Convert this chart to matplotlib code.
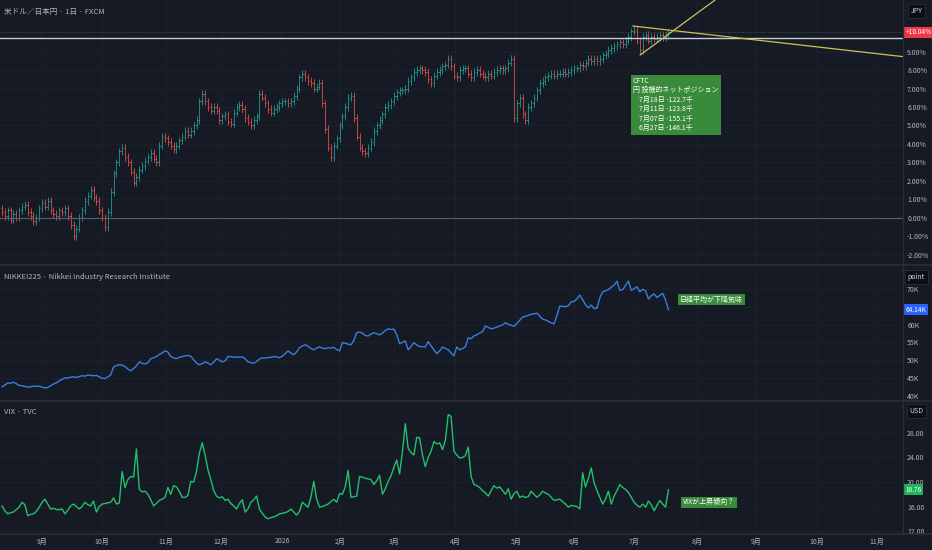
import matplotlib
matplotlib.use('Agg')
import matplotlib.pyplot as plt
import matplotlib.transforms as mtransforms
from matplotlib.lines import Line2D
import numpy as np

plt.rcParams['font.family'] = ['Noto Sans CJK JP', 'DejaVu Sans']

# 米ドル／日本円 日足終値 (基準日からの変化率 %)
usdjpy_close = [
    0.3, 0.1, 0.4, -0.1, 0.2, 0.0, 0.4, 0.6, 0.7, 0.3,
    0.1, -0.2, 0.0, 0.5, 0.8, 0.6, 0.9, 0.4, 0.2, 0.1,
    0.4, 0.3, 0.5, 0.1, -0.4, -1.0, -0.6, 0.0, 0.4, 0.9,
    1.2, 1.5, 1.1, 0.9, 0.4, 0.0, -0.5, 0.3, 1.4, 2.4,
    3.0, 3.6, 3.8, 3.3, 3.0, 2.5, 1.9, 2.2, 2.6, 2.8,
    3.1, 3.3, 3.5, 3.2, 3.0, 3.9, 4.4, 4.3, 4.1, 3.9,
    3.7, 3.9, 4.2, 4.4, 4.7, 4.5, 4.7, 5.0, 5.3, 6.3,
    6.7, 6.3, 6.0, 5.8, 6.0, 5.8, 5.3, 5.5, 5.6, 5.2,
    5.1, 5.7, 6.0, 6.1, 5.9, 5.4, 5.2, 5.0, 5.3, 5.5,
    6.7, 6.5, 6.2, 5.9, 5.7, 5.9, 6.0, 6.2, 6.3, 6.3,
    6.2, 6.3, 6.6, 7.0, 7.6, 7.8, 7.6, 7.4, 7.3, 7.0,
    7.1, 7.3, 6.2, 4.8, 3.8, 3.3, 3.9, 4.3, 5.0, 5.5,
    6.0, 6.5, 6.6, 5.4, 4.4, 3.8, 3.6, 3.5, 3.8, 4.1,
    4.7, 5.0, 5.3, 5.6, 6.0, 6.1, 6.3, 6.6, 6.8, 6.9,
    6.9, 7.0, 7.4, 7.6, 7.9, 8.0, 8.1, 8.0, 7.9, 7.5,
    7.3, 7.7, 7.9, 8.0, 8.2, 8.3, 8.6, 8.2, 7.7, 7.6,
    8.0, 8.1, 8.1, 7.8, 7.6, 7.9, 8.0, 7.8, 7.7, 7.6,
    7.8, 7.7, 7.9, 8.0, 8.1, 8.0, 8.1, 8.4, 8.6, 5.4,
    6.2, 6.5, 5.6, 5.3, 6.0, 6.2, 6.5, 6.9, 7.3, 7.4,
    7.6, 7.7, 7.8, 7.7, 7.8, 7.8, 7.9, 7.8, 7.9, 8.0,
    8.1, 8.1, 8.3, 8.2, 8.4, 8.6, 8.5, 8.6, 8.5, 8.6,
    8.8, 8.9, 9.1, 9.2, 9.3, 9.4, 9.5, 9.4, 9.6, 9.8,
    10.1, 10.2, 9.6, 9.1, 9.8, 9.9, 9.6, 9.8, 9.7, 9.8,
    9.9, 9.8, 9.9, 10.04,
]
usdjpy_first_open = 0.5

# 日経平均 (千円)
nikkei = [
    42.5, 43.0, 43.6, 43.5, 43.8, 43.4, 42.9, 42.8, 42.6, 42.4,
    42.5, 42.7, 42.6, 42.7, 42.4, 42.2, 42.3, 42.8, 43.3, 43.6,
    44.2, 44.6, 45.0, 45.0, 45.2, 45.3, 45.1, 45.4, 45.6, 45.5,
    45.8, 45.7, 45.6, 45.7, 45.3, 44.9, 44.8, 45.3, 45.8, 48.1,
    48.5, 48.7, 48.6, 48.2, 47.5, 47.0, 47.6, 48.4, 49.5, 49.1,
    48.9, 49.3, 50.4, 50.7, 51.0, 51.6, 52.0, 52.6, 52.3, 51.0,
    50.6, 50.4, 50.8, 51.0, 51.2, 51.3, 51.1, 50.1, 49.2, 48.7,
    49.0, 49.5, 49.2, 48.7, 49.4, 50.4, 50.0, 49.5, 49.8, 51.0,
    51.0, 50.8, 50.9, 50.8, 50.9, 50.4, 49.5, 49.3, 49.1, 49.6,
    50.3, 50.6, 50.6, 50.7, 50.8, 51.0, 50.9, 50.7, 51.1, 51.8,
    52.6, 52.0, 51.5, 52.3, 53.5, 54.0, 54.3, 53.9, 53.3, 52.9,
    53.4, 53.7, 53.4, 53.2, 53.5, 53.4, 53.6, 53.0, 52.6, 54.9,
    54.8, 54.5, 54.3, 55.5, 57.7, 57.9, 57.6, 56.9, 56.8, 57.3,
    57.7, 57.4, 57.1, 57.6, 58.3, 58.8, 58.6, 58.7, 57.2, 54.6,
    55.0, 55.4, 52.9, 53.8, 54.9, 54.3, 53.8, 53.8, 53.7, 55.2,
    54.0, 52.9, 51.8, 52.6, 53.7, 53.3, 52.9, 52.0, 51.2, 53.7,
    52.9, 53.3, 53.7, 56.3, 56.0, 56.8, 57.1, 57.6, 58.0, 59.6,
    59.2, 58.8, 59.0, 59.3, 59.6, 59.9, 60.5, 60.1, 59.8, 59.5,
    60.3, 61.2, 62.1, 62.3, 62.6, 62.9, 63.0, 63.2, 62.4, 61.5,
    61.3, 60.9, 60.5, 60.2, 62.5, 65.2, 65.1, 65.0, 65.3, 66.4,
    66.5, 67.2, 68.3, 67.0, 65.6, 64.7, 65.5, 64.5, 64.6, 67.5,
    69.2, 69.5, 69.8, 70.5, 71.1, 72.2, 69.6, 69.8, 71.0, 72.2,
    69.6, 70.1, 70.6, 69.2, 69.9, 69.5, 67.2, 68.1, 68.6, 67.6,
    68.2, 68.8, 66.8, 64.14,
]

# VIX
vix = [
    16.1, 15.3, 14.8, 15.0, 15.1, 15.5, 15.9, 16.7, 16.3, 14.5,
    14.7, 14.8, 15.2, 15.9, 16.7, 17.2, 16.4, 15.6, 15.7, 15.5,
    15.5, 15.6, 14.8, 15.4, 16.1, 16.4, 16.0, 15.6, 16.0, 16.7,
    16.3, 16.1, 16.9, 15.1, 16.0, 16.4, 16.5, 16.6, 16.7, 17.4,
    16.4, 16.6, 21.7, 19.1, 20.4, 20.9, 20.8, 25.4, 18.8, 18.4,
    18.5, 18.0, 17.1, 16.1, 16.5, 17.0, 17.2, 17.5, 19.1, 18.0,
    19.4, 19.2, 18.5, 17.5, 17.5, 17.8, 20.1, 20.0, 21.7, 24.7,
    26.4, 24.4, 22.0, 20.4, 18.6, 17.7, 17.4, 17.6, 17.0, 17.2,
    16.5, 16.1, 15.6, 16.5, 17.1, 15.1, 15.6, 16.7, 17.1, 17.7,
    15.6, 14.9, 14.3, 14.0, 14.2, 14.3, 14.5, 14.8, 14.9, 15.0,
    15.2, 15.6, 15.1, 14.6, 15.2, 16.7, 16.3, 15.9, 17.5, 20.1,
    17.2, 15.9, 16.0, 16.2, 16.4, 16.8, 17.2, 16.7, 18.1, 18.0,
    19.2, 21.9, 17.5, 17.6, 17.7, 20.9, 20.8, 20.6, 20.5, 20.4,
    19.6, 20.2, 21.1, 18.0, 18.9, 20.1, 21.0, 22.4, 23.6, 21.3,
    25.0, 29.5, 25.5, 24.8, 24.4, 27.3, 27.2, 24.4, 22.5, 24.0,
    25.0, 26.6, 26.2, 26.4, 25.3, 26.8, 31.0, 30.7, 25.0, 24.4,
    23.9, 24.0, 24.3, 25.7, 20.9, 19.6, 19.4, 19.1, 18.6, 18.2,
    17.7, 18.6, 19.4, 19.0, 19.2, 18.6, 18.0, 18.9, 17.2, 18.1,
    18.5, 17.5, 17.7, 17.5, 17.6, 18.5, 18.0, 17.5, 17.9, 18.5,
    18.2, 18.0, 17.5, 17.0, 17.1, 17.2, 16.8, 16.4, 15.9, 16.2,
    16.1, 16.0, 15.6, 21.5, 19.2, 20.6, 22.3, 19.9, 18.6, 17.5,
    16.4, 17.2, 18.5, 16.4, 17.7, 18.6, 19.6, 19.1, 18.8, 18.3,
    17.5, 16.7, 16.2, 15.9, 16.4, 15.9, 16.9, 16.3, 15.3, 16.2,
    17.0, 16.4, 15.9, 18.76,
]

# 月の目盛り (営業日インデックス)
month_ticks = [14.0, 35.0, 57.3, 76.6, 97.9, 118.2, 137.1, 158.4, 179.7,
               200.0, 221.0, 243.0, 263.6, 285.0, 306.0]
month_labels = ['9月', '10月', '11月', '12月', '2026', '2月', '3月', '4月',
                '5月', '6月', '7月', '8月', '9月', '10月', '11月']

# 描画したトレンドライン
trend_down = ([220.6, 315.0], [10.39, 8.73])
trend_up = ([223.1, 249.3], [8.82, 11.8])
hline_level = 9.75

cftc_text = ('CFTC\n円 投機的ネットポジション\n'
             '    7月18日 -122.7千\n'
             '    7月11日 -123.8千\n'
             '    7月07日 -155.1千\n'
             '    6月27日 -146.1千')

# 色
bg = '#161a25'
grid_c = '#1e222d'
sep_c = '#2a2e39'
txt_c = '#b2b5be'
up_c = '#26a69a'
down_c = '#ef5350'
note_c = '#3a8a3c'

W, H = 932, 550
fig = plt.figure(figsize=(W / 100, H / 100), dpi=100, facecolor=bg)
right = 903 / W
ax1 = fig.add_axes([0, 1 - 264 / H, right, 264 / H])
ax2 = fig.add_axes([0, 1 - 400 / H, right, 134 / H])
ax3 = fig.add_axes([0, 1 - 534 / H, right, 132 / H])

n = len(usdjpy_close)
x = np.arange(n)
xlim = (-0.7, 315.0)

for ax in (ax1, ax2, ax3):
    ax.set_facecolor(bg)
    for s in ax.spines.values():
        s.set_visible(False)
    ax.set_xlim(*xlim)
    ax.yaxis.tick_right()
    ax.tick_params(axis='y', length=0, pad=3, labelsize=5, labelcolor=txt_c)
    ax.set_xticks(month_ticks)
    ax.grid(True, color=grid_c, lw=0.6)
    ax.set_axisbelow(True)
ax1.tick_params(axis='x', length=0, labelbottom=False)
ax2.tick_params(axis='x', length=0, labelbottom=False)
ax3.set_xticklabels(month_labels)
ax3.tick_params(axis='x', length=0, pad=2.5, labelsize=5, labelcolor=txt_c)

# --- 上段: ドル円 OHLCバー ---
close = np.array(usdjpy_close)
open_ = np.r_[usdjpy_first_open, close[:-1]]
wick = 0.2
high = np.maximum(open_, close) + wick
low = np.minimum(open_, close) - wick
colors = np.where(close >= open_, up_c, down_c)
ax1.vlines(x, low, high, colors=colors, lw=0.6, alpha=0.9)
ax1.hlines(open_, x - 0.45, x, colors=colors, lw=0.6, alpha=0.9)
ax1.hlines(close, x, x + 0.45, colors=colors, lw=0.6, alpha=0.9)

ax1.axhline(0, color='#5d606b', lw=0.8)
ax1.axhline(hline_level, color='#c9ccd4', lw=1.0)
ax1.axhline(close[-1], color='#5d606b', lw=0.6, ls=(0, (1, 2)))
ax1.plot(*trend_down, color='#cfc15a', lw=0.9)
ax1.plot(*trend_up, color='#cfc15a', lw=0.9)
ax1.set_ylim(-2.51, 11.8)
top_ticks = np.arange(-2, 10)
ax1.set_yticks(top_ticks)
ax1.set_yticklabels([f'{t:.2f}%' for t in top_ticks])

ax1.text(220.6, 7.63, cftc_text, ha='left', va='top', fontsize=5, color='white',
         linespacing=1.25,
         bbox=dict(boxstyle='square,pad=0.35', fc=note_c, ec='none'))
ax1.text(0.004, 0.955, '米ドル／日本円 · 1日 · FXCM', transform=ax1.transAxes,
         ha='left', va='center', fontsize=5.5, color=txt_c)

# --- 中段: 日経平均 ---
ax2.plot(x, nikkei, color='#3b7ddd', lw=1.0)
ax2.set_ylim(38.79, 76.46)
nk_ticks = [40, 45, 50, 55, 60, 65, 70]
ax2.set_yticks(nk_ticks)
# 65K は価格タグに隠れる
ax2.set_yticklabels(['' if t == 65 else f'{t}K' for t in nk_ticks])
ax2.text(237.0, 67.05, '日経平均が下降気味', ha='left', va='center', fontsize=5,
         color='white', bbox=dict(boxstyle='square,pad=0.25', fc=note_c, ec='none'))
ax2.text(0.004, 0.918, 'NIKKEI225 · Nikkei Industry Research Institute',
         transform=ax2.transAxes, ha='left', va='center', fontsize=5.5, color=txt_c)

# --- 下段: VIX ---
ax3.plot(x, vix, color='#22c06a', lw=1.0)
ax3.set_ylim(11.52, 33.05)
vix_ticks = [12, 16, 20, 24, 28]
ax3.set_yticks(vix_ticks)
ax3.set_yticklabels([f'{t:.2f}' for t in vix_ticks])
ax3.text(238.0, 16.7, 'VIXが上昇傾向？', ha='left', va='center', fontsize=5,
         color='white', bbox=dict(boxstyle='square,pad=0.25', fc=note_c, ec='none'))
ax3.text(0.004, 0.924, 'VIX · TVC', transform=ax3.transAxes,
         ha='left', va='center', fontsize=5.5, color=txt_c)


# 右側の価格タグ
def price_tag(ax, y, text, color):
    tr = mtransforms.blended_transform_factory(ax.transAxes, ax.transData)
    ax.text(1.003, y, text, transform=tr, ha='left', va='center', fontsize=4.7,
            color='white', clip_on=False,
            bbox=dict(boxstyle='square,pad=0.25', fc=color, ec='none'))


price_tag(ax1, close[-1], f'+{close[-1]:.2f}%', '#f23645')
price_tag(ax2, nikkei[-1], f'{nikkei[-1]:.2f}K', '#2962ff')
price_tag(ax3, vix[-1], f'{vix[-1]:.2f}', '#1fb35a')

# 通貨・単位ラベル
for ypx, lab in ((11, 'JPY'), (277, 'point'), (411, 'USD')):
    fig.text(916.5 / W, 1 - ypx / H, lab, ha='center', va='center', fontsize=5,
             color='#d1d4dc',
             bbox=dict(boxstyle='square,pad=0.4', fc='#0c0e14', ec=sep_c, lw=0.6))

# 区切り線
for ypx in (265, 401, 534):
    fig.add_artist(Line2D([0, 1], [1 - ypx / H] * 2, transform=fig.transFigure,
                          color=sep_c, lw=1.2))
fig.add_artist(Line2D([right, right], [1 - 534 / H, 1], transform=fig.transFigure,
                      color=sep_c, lw=1.0))

fig.savefig('out.png', dpi=100, facecolor=bg)
